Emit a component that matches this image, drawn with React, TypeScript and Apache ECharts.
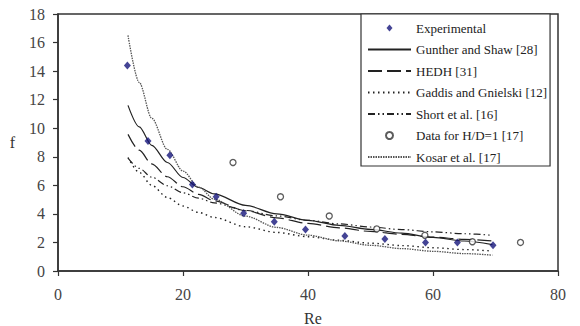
import React, { useEffect, useRef } from "react";
import * as echarts from "echarts";

// Reynolds numbers at which the correlation curves are read
const reCurve = [11.2, 13, 15, 17.5, 20, 22.5, 25, 30, 35, 40, 45, 50, 55, 60, 65, 69.5];
const guntherShaw = [11.6, 10.1, 8.8, 7.6, 6.55, 5.85, 5.4, 4.6, 4.0, 3.55, 3.2, 2.92, 2.65, 2.35, 2.1, 1.85];
const hedh = [9.57, 8.46, 7.5, 6.6, 5.9, 5.37, 4.92, 4.22, 3.72, 3.33, 3.02, 2.77, 2.56, 2.37, 2.22, 2.1];
const gaddis = [7.95, 6.9, 6.0, 5.15, 4.55, 4.1, 3.75, 3.1, 2.7, 2.4, 2.15, 1.95, 1.78, 1.63, 1.5, 1.4];
const shortEtAl = [7.9, 7.19, 6.57, 5.97, 5.48, 5.1, 4.77, 4.24, 3.86, 3.55, 3.3, 3.08, 2.9, 2.74, 2.61, 2.5];
const kosar = [16.5, 13.2, 10.7, 8.52, 7.0, 5.88, 5.03, 3.84, 3.05, 2.51, 2.11, 1.8, 1.57, 1.38, 1.22, 1.11];

// Experimental points
const reExp = [11.1, 14.4, 17.9, 21.5, 25.3, 29.7, 34.6, 39.6, 45.9, 52.3, 58.8, 63.9, 69.6];
const fExp = [14.4, 9.1, 8.1, 6.05, 5.2, 4.05, 3.45, 2.9, 2.45, 2.25, 2.0, 2.0, 1.8];

// Data for H/D = 1 [17]
const reHD = [28, 35.6, 43.4, 51, 58.7, 66.3, 74];
const fHD = [7.6, 5.2, 3.85, 2.95, 2.5, 2.05, 2.0];

const seriesNames = [
  "Experimental",
  "Gunther and Shaw [28]",
  "HEDH [31]",
  "Gaddis and Gnielski [12]",
  "Short et al. [16]",
  "Data for H/D=1 [17]",
  "Kosar et al. [17]",
];

const zip = (xs: number[], ys: number[]) => xs.map((x, i) => [x, ys[i]]);

const FONT = "Liberation Serif";

// legend icon: small diamond centred in a 43 x 7 box
const DIAMOND_ICON = "path://M0,3.5L0,3.5M43,3.5L43,3.5M21.5,0L24.5,3.5L21.5,7L18.5,3.5Z";

export default function App() {
  const ref = useRef<HTMLDivElement>(null);
  useEffect(() => {
    if (!ref.current) return;
    const chart = echarts.init(ref.current, null, { renderer: "svg" });
    const lineSeries = (name: string, data: number[], type: any, color = "#222", width = 1.2) => ({
      name,
      type: "line",
      data: zip(reCurve, data),
      smooth: 0.3,
      smoothMonotone: "x",
      symbol: "none",
      lineStyle: { color, width, type },
      itemStyle: { color, opacity: 0 },
      z: 2,
    });
    chart.setOption({
      animation: false,
      backgroundColor: "#fff",
      textStyle: { fontFamily: FONT },
      grid: {
        left: 58,
        right: 22,
        top: 14,
        bottom: 55,
        outerBoundsMode: "none",
        containLabel: false,
        show: true,
        borderColor: "#333",
        borderWidth: 1.5,
        backgroundColor: "transparent",
      },
      xAxis: {
        type: "value",
        min: 0,
        max: 80,
        interval: 20,
        name: "Re",
        nameLocation: "middle",
        nameGap: 39,
        nameTextStyle: { fontFamily: FONT, fontSize: 16, color: "#333", padding: [0, 0, 0, 10] },
        axisLine: { lineStyle: { color: "#333", width: 1.5 } },
        axisTick: { show: true, length: 5, lineStyle: { color: "#333", width: 1.2 } },
        axisLabel: { fontFamily: FONT, fontSize: 16, color: "#444", margin: 15 },
        splitLine: { show: false },
      },
      yAxis: {
        type: "value",
        min: 0,
        max: 18,
        interval: 2,
        name: "f",
        nameLocation: "middle",
        nameGap: 43,
        nameRotate: 0,
        nameTextStyle: { fontFamily: FONT, fontSize: 16, color: "#333" },
        axisLine: { show: true, lineStyle: { color: "#333", width: 1.5 } },
        axisTick: { show: true, length: 5, lineStyle: { color: "#333", width: 1.2 } },
        axisLabel: { fontFamily: FONT, fontSize: 16, color: "#444", margin: 13 },
        splitLine: { show: false },
      },
      legend: {
        orient: "vertical",
        left: 361,
        top: 14,
        itemWidth: 43,
        itemHeight: 7,
        itemGap: 7.5,
        itemTextGap: 3,
        padding: [7, 3, 2, 6],
        borderColor: "#333",
        borderWidth: 1.2,
        backgroundColor: "#fff",
        data: [
          { name: seriesNames[0], icon: DIAMOND_ICON },
          seriesNames[1],
          seriesNames[2],
          seriesNames[3],
          seriesNames[4],
          seriesNames[5],
          seriesNames[6],
        ],
        textStyle: { fontFamily: FONT, fontSize: 13, color: "#222", lineHeight: 14 },
      },
      series: [
        {
          name: seriesNames[0],
          type: "scatter",
          data: zip(reExp, fExp),
          symbol: "diamond",
          symbolSize: [7, 8],
          itemStyle: { color: "#15157a" },
          z: 5,
        },
        lineSeries(seriesNames[1], guntherShaw, "solid"),
        lineSeries(seriesNames[2], hedh, [14, 5]),
        lineSeries(seriesNames[3], gaddis, [1.5, 3.5], "#222", 1.4),
        lineSeries(seriesNames[4], shortEtAl, [7, 3, 1.5, 3, 1.5, 3]),
        {
          name: seriesNames[5],
          type: "scatter",
          data: zip(reHD, fHD),
          symbol: "circle",
          symbolSize: 6,
          itemStyle: { color: "#fff", borderColor: "#333", borderWidth: 1.3 },
          z: 4,
        },
        lineSeries(seriesNames[6], kosar, [1.5, 1], "#555", 1.3),
      ],
    });
    return () => chart.dispose();
  }, []);
  return (
    <div
      ref={ref}
      style={{ position: "fixed", left: 0, top: 0, width: 580, height: 326, background: "#fff" }}
    />
  );
}
